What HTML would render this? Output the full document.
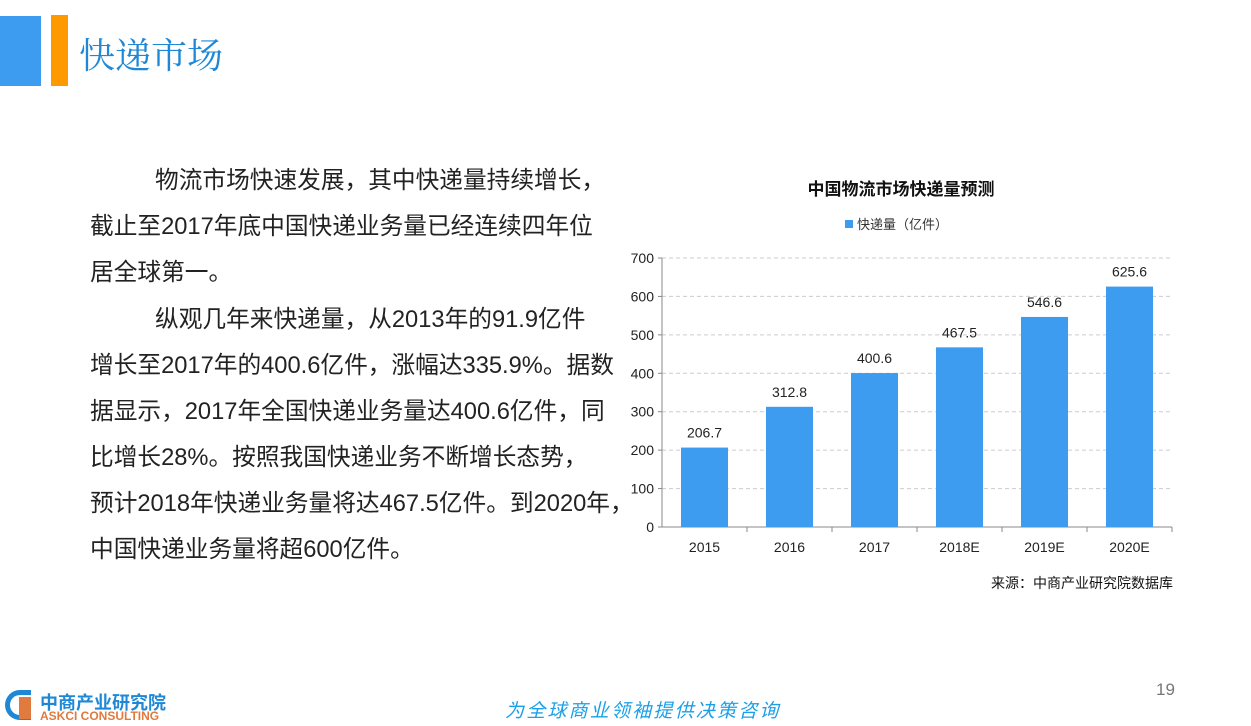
<!DOCTYPE html>
<html><head><meta charset="utf-8"><style>
body{margin:0;width:1251px;height:726px;background:#fff;position:relative;overflow:hidden;font-family:"Liberation Sans","Noto Sans CJK SC",sans-serif}
.abs{position:absolute}
.p{position:absolute;left:90px;font-size:23.7px;color:#222;line-height:46px;width:560px;white-space:nowrap}
.i{padding-left:65px}
</style></head><body>
<div class="abs" style="left:0;top:16px;width:41px;height:70px;background:#3d9bf0"></div>
<div class="abs" style="left:51px;top:15px;width:17px;height:71px;background:#ff9900"></div>
<div class="abs" style="left:79px;top:28px;font-size:36px;color:#1e88d6;font-family:'Noto Serif CJK SC',serif">快递市场</div>
<div class="p" style="top:158px"><span class="i">物流市场快速发展，其中快递量持续增长，</span><br>截止至2017年底中国快递业务量已经连续四年位<br>居全球第一。</div>
<div class="p" style="top:297px"><span class="i">纵观几年来快递量，从2013年的91.9亿件</span><br>增长至2017年的400.6亿件，涨幅达335.9%。据数<br>据显示，2017年全国快递业务量达400.6亿件，同<br>比增长28%。按照我国快递业务不断增长态势，<br>预计2018年快递业务量将达467.5亿件。到2020年，<br>中国快递业务量将超600亿件。</div>
<svg class="abs" style="left:0;top:0" width="1251" height="726" id="chart">
<text x="901" y="195" text-anchor="middle" font-size="17" font-weight="bold" fill="#111">中国物流市场快递量预测</text>
<rect x="845" y="220" width="8" height="8" fill="#3d9bf0"/>
<text x="857" y="229" font-size="13" fill="#333">快递量（亿件）</text>
<text x="1173" y="588" text-anchor="end" font-size="14" fill="#111">来源：中商产业研究院数据库</text>
<g id="plot"></g>
</svg>
<div class="abs" style="left:1156px;top:680px;font-size:17px;color:#777">19</div>
<div class="abs" style="left:5px;top:690px;width:26px;height:30px;border-radius:15px 0 0 15px;border:5px solid #1e88d6;border-right:none;box-sizing:border-box"></div>
<div class="abs" style="left:19px;top:697px;width:12px;height:22px;background:#e07a3e"></div>
<div class="abs" style="left:40px;top:689px;font-size:18px;font-weight:bold;color:#1e88d6">中商产业研究院</div>
<div class="abs" style="left:40px;top:709px;font-size:12px;font-weight:bold;color:#e07a3e">ASKCI CONSULTING</div>
<div class="abs" style="left:505px;top:696px;font-size:19px;color:#1aa0e8;font-style:italic;letter-spacing:2.2px">为全球商业领袖提供决策咨询</div>
<script>
const categories=["2015","2016","2017","2018E","2019E","2020E"];
const values=[206.7,312.8,400.6,467.5,546.6,625.6];
const yTicks=[0,100,200,300,400,500,600,700];
const NS="http://www.w3.org/2000/svg";
const g=document.getElementById('plot');
const x0=662,x1=1172,y0=527,y1=258,yMax=700;
const y=v=>y0-(v/yMax)*(y0-y1);
const step=(x1-x0)/categories.length;
const xc=i=>x0+step*(i+0.5);
function mk(t,a){const e=document.createElementNS(NS,t);for(const k in a)e.setAttribute(k,a[k]);g.appendChild(e);return e;}
yTicks.forEach(t=>{
 if(t>0){const l=mk('line',{x1:x0,x2:x1,y1:y(t),y2:y(t),stroke:'#ccc','stroke-dasharray':'4,3'});
 
 }
 const tk=mk('line',{x1:x0-4,x2:x0,y1:y(t),y2:y(t),stroke:'#888'});
 
 
 const tx=mk('text',{x:x0-8,y:y(t)+5,'text-anchor':'end','font-size':14,fill:'#222'});tx.textContent=t;
 
 
});
const ya=mk('line',{x1:x0,x2:x0,y1:y1,y2:y0,stroke:'#888'});


const xa=mk('line',{x1:x0,x2:x1,y1:y0,y2:y0,stroke:'#888'});


const bw=47;
categories.forEach((c,i)=>{
 const r=mk('rect',{x:xc(i)-bw/2,y:y(values[i]),width:bw,height:y0-y(values[i]),fill:'#3d9bf0'});
 
 
 const v=mk('text',{x:xc(i),y:y(values[i])-10,'text-anchor':'middle','font-size':14,fill:'#222'});v.textContent=values[i];
 
 
 const tk=mk('line',{x1:x0+step*(i+1),x2:x0+step*(i+1),y1:y0,y2:y0+5,stroke:'#888'});
 
 
 const l=mk('text',{x:xc(i),y:552,'text-anchor':'middle','font-size':14,fill:'#222'});l.textContent=c;
 
 
});
</script>
</body></html>
